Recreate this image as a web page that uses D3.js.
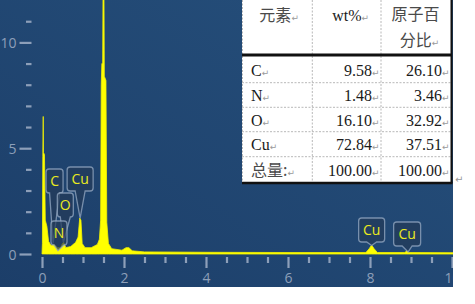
<!DOCTYPE html>
<html>
<head>
<meta charset="utf-8">
<script src="https://cdn.jsdelivr.net/npm/d3@7"></script>
<style>
  body { margin: 0; background: #fff; }
  svg { display: block; }
</style>
</head>
<body>
<svg id="chart" width="475" height="304"></svg>
<script>
// spectrum (keV, counts)
const energy = [0, 0.01, 0.02, 0.03, 0.035, 0.06, 0.08, 0.12, 0.16, 0.22, 0.3, 0.38, 0.45, 0.5, 0.53, 0.58,
  0.7, 0.82, 0.88, 0.92, 0.95, 0.98, 1.05, 1.2, 1.35, 1.4, 1.43, 1.445, 1.46, 1.48, 1.49, 1.51, 1.52, 1.56,
  1.58, 1.62, 1.7, 1.95, 2.05, 2.12, 2.2, 2.5, 4, 6, 7.9, 7.98, 8.04, 8.1, 8.18, 8.85, 8.9, 8.95, 10.3];
const counts = [0, 0.5, 4.6, 6.5, 4.8, 4.7, 1.6, 1.3, 0.6, 0.4, 0.45, 0.3, 0.3, 0.5, 0.55, 0.3,
  0.35, 0.55, 0.8, 1.7, 1.6, 0.5, 0.3, 0.3, 0.45, 0.7, 1.6, 8.0, 9.0, 9.0, 13, 13, 8.4, 8.2,
  1.5, 0.5, 0.25, 0.18, 0.3, 0.3, 0.15, 0.1, 0.08, 0.07, 0.07, 0.25, 0.42, 0.25, 0.07, 0.07, 0.15, 0.07, 0.06];

const xTicks = d3.range(0, 10.01, 0.5);
const yTicks = d3.range(0, 12, 1);

// peak labels
const labelNames = ["C", "Cu", "O", "N", "Cu", "Cu"];
const labelEnergy = [0.27, 0.93, 0.52, 0.39, 8.04, 8.93];
const labelTipValue = [0.5, 1.7, 0.55, 0.15, 0.4, 0.1];

// EDS result table
const elements = ["C", "N", "O", "Cu"];
const wtPct = ["9.58", "1.48", "16.10", "72.84"];
const atPct = ["26.10", "3.46", "32.92", "37.51"];
const totalLabel = "总量:";
const totals = ["100.00", "100.00"];

const svg = d3.select("#chart");
const W = 453, H = 287;

const defs = svg.append("defs");
const grad = defs.append("linearGradient").attr("id", "bg")
  .attr("x1", "0%").attr("y1", "100%").attr("x2", "100%").attr("y2", "0%");
grad.append("stop").attr("offset", "0%").attr("stop-color", "#1c3e69");
grad.append("stop").attr("offset", "100%").attr("stop-color", "#26507c");
defs.append("clipPath").attr("id", "plotclip").append("rect").attr("width", W).attr("height", H);

svg.append("rect").attr("width", W).attr("height", H).attr("fill", "url(#bg)");

const x = d3.scaleLinear().domain([0, 10]).range([42, 452]);
const y = d3.scaleLinear().domain([0, 10]).range([254, 42.4]);

const plot = svg.append("g").attr("clip-path", "url(#plotclip)");
const axisColor = "#8d9fb9";

// x axis ticks + labels
const xAxis = plot.append("g").attr("transform", `translate(0,${y(0) + 3})`)
  .call(d3.axisBottom(x).tickValues(xTicks).tickSize(0).tickPadding(0)
    .tickFormat(d => d % 2 === 0 ? d : ""));
xAxis.select(".domain").remove();
xAxis.selectAll(".tick line")
  .attr("y1", 0).attr("y2", d => d % 2 === 0 ? 11 : 6)
  .attr("stroke", axisColor).attr("stroke-width", 2.2);
xAxis.selectAll(".tick text")
  .attr("y", 26).attr("dy", 0)
  .attr("fill", axisColor).attr("font-family", "Open Sans, sans-serif").attr("font-size", 14);

// y axis ticks + labels
const yAxis = plot.append("g").attr("transform", "translate(31.5,0)")
  .call(d3.axisLeft(y).tickValues(yTicks).tickSize(0).tickPadding(0)
    .tickFormat(d => d % 5 === 0 ? d : ""));
yAxis.select(".domain").remove();
yAxis.selectAll(".tick line")
  .attr("x1", 0).attr("x2", d => d % 5 === 0 ? -12 : -5.5)
  .attr("stroke", axisColor).attr("stroke-width", 2.2);
yAxis.selectAll(".tick text")
  .attr("x", -15).attr("dy", "0.36em")
  .attr("fill", axisColor).attr("font-family", "Open Sans, sans-serif").attr("font-size", 14);

// spectrum
const pts = energy.map((e, i) => [e, counts[i]]);
plot.append("path").datum(pts)
  .attr("fill", "#ffff00")
  .attr("stroke", "#f2f200").attr("stroke-width", 0.8)
  .attr("d", d3.area().x(d => x(d[0])).y0(y(0)).y1(d => y(d[1])));

// peak labels: box placement is layout, not data
const boxLayout = [
  { top: 169, dx: 1.5, w: 17 },
  { top: 167, dx: 0, w: 26 },
  { top: 193, dx: 2, w: 16 },
  { top: 221, dx: 1, w: 16 },
  { top: 218, dx: 0, w: 26 },
  { top: 222, dx: -1, w: 27 }
];
const boxH = 24;
labelNames.forEach((name, i) => {
  const L = boxLayout[i];
  const tx = x(labelEnergy[i]), ty = y(labelTipValue[i]);
  const cx = tx + L.dx;
  const left = cx - L.w / 2, right = cx + L.w / 2, top = L.top, bot = top + boxH, r = 3;
  const hw = 5;
  const p = d3.path();
  p.moveTo(left + r, top);
  p.lineTo(right - r, top);
  p.quadraticCurveTo(right, top, right, top + r);
  p.lineTo(right, bot - r);
  p.quadraticCurveTo(right, bot, right - r, bot);
  p.lineTo(cx + hw, bot);
  p.lineTo(tx, ty);
  p.lineTo(cx - hw, bot);
  p.lineTo(left + r, bot);
  p.quadraticCurveTo(left, bot, left, bot - r);
  p.lineTo(left, top + r);
  p.quadraticCurveTo(left, top, left + r, top);
  p.closePath();
  plot.append("path").attr("d", p.toString())
    .attr("fill", "rgba(36,58,88,0.7)")
    .attr("stroke", "rgba(150,170,195,0.75)").attr("stroke-width", 1.3);
  plot.append("text").attr("x", cx).attr("y", top + boxH / 2 + 5)
    .attr("text-anchor", "middle")
    .attr("fill", "#eaea1e").attr("font-family", "Open Sans, sans-serif").attr("font-size", 14)
    .text(name);
});

// table
const tLeft = 242, tRight = 452, colX = [242, 312.3, 381, 452];
const headBot = 55;
const rowLines = [82.7, 107.3, 131.7, 156.7];
const tBot = 183;
const tbl = svg.append("g");
tbl.append("rect").attr("x", tLeft).attr("y", 0).attr("width", tRight - tLeft).attr("height", tBot)
  .attr("fill", "#fff");
const dash = "#b8b8b8";
tbl.append("line").attr("x1", tLeft + 0.5).attr("x2", tLeft + 0.5).attr("y1", 0).attr("y2", tBot)
  .attr("stroke", dash).attr("stroke-width", 1).attr("stroke-dasharray", "2,1.5");
colX.slice(1, 3).forEach(cx => {
  tbl.append("line").attr("x1", cx).attr("x2", cx).attr("y1", 0).attr("y2", tBot)
    .attr("stroke", dash).attr("stroke-width", 1).attr("stroke-dasharray", "2,1.5");
});
rowLines.forEach(ry => {
  tbl.append("line").attr("x1", tLeft).attr("x2", tRight).attr("y1", ry).attr("y2", ry)
    .attr("stroke", dash).attr("stroke-width", 1).attr("stroke-dasharray", "2,1.5");
});
tbl.append("line").attr("x1", tLeft).attr("x2", tRight).attr("y1", headBot).attr("y2", headBot)
  .attr("stroke", "#111").attr("stroke-width", 3);
tbl.append("line").attr("x1", tLeft).attr("x2", tRight + 0.5).attr("y1", tBot).attr("y2", tBot)
  .attr("stroke", "#111").attr("stroke-width", 2.3);
tbl.append("line").attr("x1", tRight - 0.5).attr("x2", tRight - 0.5).attr("y1", 0).attr("y2", tBot)
  .attr("stroke", "#111").attr("stroke-width", 2);

const serif = "'Liberation Serif', 'Times New Roman', serif";
const cjk = "'Noto Sans CJK SC', sans-serif";
const mark = "↵";

function cell(px, py, str, anchor, font, color) {
  const t = tbl.append("text").attr("x", px).attr("y", py).attr("text-anchor", anchor)
    .attr("font-size", 16);
  t.append("tspan").attr("font-family", font).attr("fill", color).text(str);
  t.append("tspan").attr("font-family", "DejaVu Sans, sans-serif").attr("font-size", 9)
    .attr("fill", "#9a9a9a").text(mark);
}
function num(px, py, str) {
  tbl.append("text").attr("x", px).attr("y", py).attr("text-anchor", "end")
    .attr("font-family", serif).attr("font-size", 16).attr("fill", "#1a1a1a").text(str);
  tbl.append("text").attr("x", px).attr("y", py)
    .attr("font-family", "DejaVu Sans, sans-serif").attr("font-size", 9).attr("fill", "#9a9a9a").text(mark);
}

// header
cell((colX[0] + colX[1]) / 2 + 2, 20.5, "元素", "middle", cjk, "#4a4a4a");
cell((colX[1] + colX[2]) / 2 + 4, 20.5, "wt%", "middle", serif, "#1a1a1a");
tbl.append("text").attr("x", (colX[2] + colX[3]) / 2 - 1).attr("y", 19.5)
  .attr("text-anchor", "middle").attr("font-family", cjk).attr("font-size", 16)
  .attr("fill", "#4a4a4a").text("原子百");
cell((colX[2] + colX[3]) / 2 + 3, 46, "分比", "middle", cjk, "#4a4a4a");

const rowBase = [76, 100.5, 125.5, 150];
elements.forEach((el, i) => {
  cell(251, rowBase[i], el, "start", serif, "#1a1a1a");
  num(372, rowBase[i], wtPct[i]);
  num(442, rowBase[i], atPct[i]);
});
cell(251, 175.5, totalLabel, "start", cjk, "#4a4a4a");
num(372, 175.5, totals[0]);
num(442, 175.5, totals[1]);

svg.append("text").attr("x", 455).attr("y", 183)
  .attr("font-family", "DejaVu Sans, sans-serif").attr("font-size", 10).attr("fill", "#9a9a9a").text(mark);
</script>
</body>
</html>
